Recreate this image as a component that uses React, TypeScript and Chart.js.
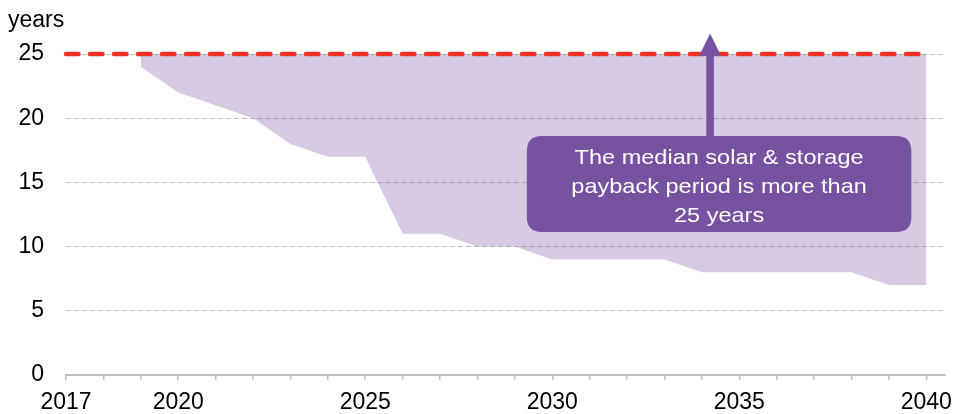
import React, { useEffect, useRef } from 'react';
import { Chart, registerables } from 'chart.js';

Chart.register(...registerables);

// ---- data ----
const AREA_YEARS = [2019, 2020, 2021, 2022, 2023, 2024, 2025, 2026, 2027, 2028, 2029, 2030, 2031, 2032, 2033, 2034, 2035, 2036, 2037, 2038, 2039, 2040];
const AREA_LOWER = [24, 22, 21, 20, 18, 17, 17, 11, 11, 10, 10, 9, 9, 9, 9, 8, 8, 8, 8, 8, 7, 7];
const AREA_UPPER = 25;
const MEDIAN_YEARS = [2017, 2040];
const MEDIAN_PAYBACK = [25, 25];
const X_TICK_LABELS = [2017, 2020, 2025, 2030, 2035, 2040];
const X_MIN = 2017;
const X_MAX = 2040.5;
const Y_MIN = 0;
const Y_MAX = 25;
const Y_STEP = 5;
const Y_UNIT = 'years';
const NOTE_LINES = ['The median solar & storage', 'payback period is more than', '25 years'];

const FONT = '"Liberation Sans", Arial, sans-serif';
const PURPLE = '#7652A1';
const RED = '#EE3226';
const GRID = '#BFBFBF';

const notePlugin = {
  id: 'notePlugin',
  afterDatasetsDraw(chart: any) {
    const { ctx, scales } = chart;
    const x = scales.x;
    const y = scales.y;
    const box = { xMin: 2029.32, xMax: 2039.6, yMin: 11.14, yMax: 18.61 };
    const arrow = { x: 2034.22, tip: 26.6, headBase: 24.84 };

    const bx0 = x.getPixelForValue(box.xMin);
    const bx1 = x.getPixelForValue(box.xMax);
    const by0 = y.getPixelForValue(box.yMax);
    const by1 = y.getPixelForValue(box.yMin);

    ctx.save();
    ctx.fillStyle = PURPLE;
    const ax = x.getPixelForValue(arrow.x);
    const tipY = y.getPixelForValue(arrow.tip);
    const baseY = y.getPixelForValue(arrow.headBase);
    ctx.fillRect(ax - 3.75, baseY - 1, 7.5, by0 - baseY + 2);
    ctx.beginPath();
    ctx.moveTo(ax, tipY);
    ctx.lineTo(ax + 11, baseY);
    ctx.lineTo(ax - 11, baseY);
    ctx.closePath();
    ctx.fill();

    const r = 15;
    ctx.beginPath();
    ctx.moveTo(bx0 + r, by0);
    ctx.lineTo(bx1 - r, by0);
    ctx.quadraticCurveTo(bx1, by0, bx1, by0 + r);
    ctx.lineTo(bx1, by1 - r);
    ctx.quadraticCurveTo(bx1, by1, bx1 - r, by1);
    ctx.lineTo(bx0 + r, by1);
    ctx.quadraticCurveTo(bx0, by1, bx0, by1 - r);
    ctx.lineTo(bx0, by0 + r);
    ctx.quadraticCurveTo(bx0, by0, bx0 + r, by0);
    ctx.closePath();
    ctx.fill();

    ctx.fillStyle = '#FFFFFF';
    ctx.font = `21px ${FONT}`;
    ctx.textAlign = 'center';
    ctx.textBaseline = 'alphabetic';
    const cx = (bx0 + bx1) / 2;
    const cy = (by0 + by1) / 2;
    NOTE_LINES.forEach((line, i) => {
      ctx.save();
      ctx.translate(cx, cy + 8.5 + (i - 1) * 29);
      ctx.scale(1.12, 1);
      ctx.fillText(line, 0, 0);
      ctx.restore();
    });

    ctx.fillStyle = '#000000';
    ctx.font = `23px ${FONT}`;
    ctx.textAlign = 'left';
    ctx.fillText(Y_UNIT, 8, chart.chartArea.top - 27);
    ctx.restore();
  },
};

export default function App() {
  const ref = useRef<HTMLCanvasElement | null>(null);

  useEffect(() => {
    if (!ref.current) return;
    const chart = new Chart(ref.current, {
      type: 'line',
      data: {
        datasets: [
          {
            label: 'Median payback',
            data: MEDIAN_YEARS.map((yr, i) => ({ x: yr, y: MEDIAN_PAYBACK[i] })),
            borderColor: RED,
            borderWidth: 4.5,
            borderDash: [12.5, 11.5],
            borderCapStyle: 'round',
            pointRadius: 0,
            fill: false,
            clip: false as any,
          },
          {
            label: 'Payback range',
            data: AREA_YEARS.map((yr, i) => ({ x: yr, y: AREA_LOWER[i] })),
            borderColor: 'transparent',
            borderWidth: 0,
            pointRadius: 0,
            backgroundColor: 'rgba(118,82,162,0.3)',
            fill: { value: AREA_UPPER } as any,
            tension: 0,
          },
        ],
      },
      options: {
        animation: false,
        responsive: false,
        maintainAspectRatio: false,
        layout: { padding: { top: 54, right: 10, left: 0, bottom: 0 } },
        plugins: {
          legend: { display: false },
          tooltip: { enabled: false },
        },
        scales: {
          x: {
            type: 'linear',
            min: X_MIN,
            max: X_MAX,
            afterBuildTicks: (s: any) => {
              const ticks: any[] = [];
              for (let v = X_MIN; v <= Math.floor(X_MAX); v++) ticks.push({ value: v });
              s.ticks = ticks;
            },
            afterFit: (s: any) => {
              s.height = 39;
              s.paddingLeft = 0;
              s.paddingRight = 0;
            },
            border: { display: true, color: GRID, width: 2 },
            grid: {
              display: true,
              drawOnChartArea: false,
              drawTicks: true,
              tickLength: 5,
              color: GRID,
              lineWidth: 1.5,
            },
            ticks: {
              stepSize: 1,
              autoSkip: false,
              maxRotation: 0,
              minRotation: 0,
              padding: 9,
              color: '#000000',
              font: { family: FONT, size: 23 },
              callback: (v: any) => (X_TICK_LABELS.includes(Number(v)) ? String(v) : ''),
            },
          },
          y: {
            type: 'linear',
            min: Y_MIN,
            max: Y_MAX,
            afterFit: (s: any) => {
              s.width = 66;
            },
            border: { display: false, dash: [5, 3] },
            grid: {
              display: true,
              drawTicks: false,
              drawOnChartArea: true,
              color: (c: any) => (c.tick && c.tick.value === 0 ? 'rgba(0,0,0,0)' : GRID),
              lineWidth: 1,
            },
            ticks: {
              stepSize: Y_STEP,
              padding: 22,
              color: '#000000',
              font: { family: FONT, size: 23 },
            },
          },
        },
      },
      plugins: [notePlugin],
    });
    return () => chart.destroy();
  }, []);

  return (
    <div style={{ position: 'absolute', left: 0, top: 0, width: 955, height: 414, background: '#fff' }}>
      <canvas ref={ref} width={955} height={414} style={{ display: 'block', width: 955, height: 414 }} />
    </div>
  );
}
